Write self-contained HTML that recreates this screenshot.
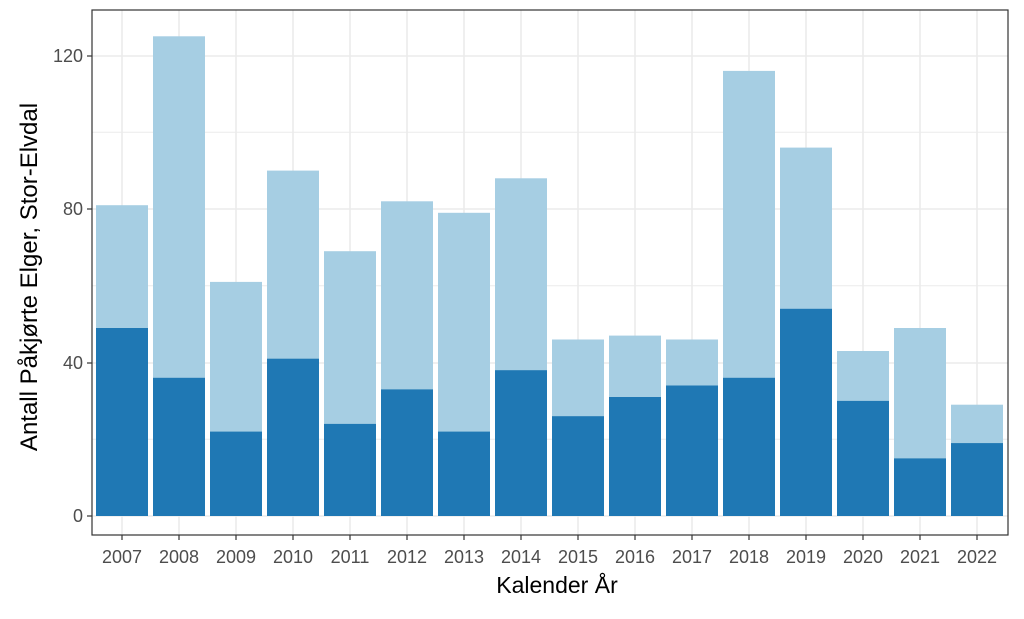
<!DOCTYPE html>
<html><head><meta charset="utf-8"><style>body{margin:0;background:#fff}</style></head><body>
<svg width="1024" height="614" xmlns="http://www.w3.org/2000/svg" font-family="Liberation Sans, sans-serif">
<rect x="92" y="10" width="916" height="525" fill="#fff"/>
<g stroke="#ebebeb" stroke-width="1">
<line x1="92" x2="1008" y1="439.25" y2="439.25"/><line x1="92" x2="1008" y1="285.75" y2="285.75"/><line x1="92" x2="1008" y1="132.25" y2="132.25"/>
</g>
<g stroke="#ebebeb" stroke-width="1.6">
<line x1="92" x2="1008" y1="516" y2="516"/><line x1="92" x2="1008" y1="363" y2="363"/><line x1="92" x2="1008" y1="209" y2="209"/><line x1="92" x2="1008" y1="56" y2="56"/>
<line x1="122" x2="122" y1="10" y2="535"/><line x1="179" x2="179" y1="10" y2="535"/><line x1="236" x2="236" y1="10" y2="535"/><line x1="293" x2="293" y1="10" y2="535"/><line x1="350" x2="350" y1="10" y2="535"/><line x1="407" x2="407" y1="10" y2="535"/><line x1="464" x2="464" y1="10" y2="535"/><line x1="521" x2="521" y1="10" y2="535"/><line x1="578" x2="578" y1="10" y2="535"/><line x1="635" x2="635" y1="10" y2="535"/><line x1="692" x2="692" y1="10" y2="535"/><line x1="749" x2="749" y1="10" y2="535"/><line x1="806" x2="806" y1="10" y2="535"/><line x1="863" x2="863" y1="10" y2="535"/><line x1="920" x2="920" y1="10" y2="535"/><line x1="977" x2="977" y1="10" y2="535"/>
</g>
<g fill="#a6cee3">
<rect x="96" y="205.2" width="52" height="310.8"/><rect x="153" y="36.3" width="52" height="479.7"/><rect x="210" y="281.9" width="52" height="234.1"/><rect x="267" y="170.6" width="52" height="345.4"/><rect x="324" y="251.2" width="52" height="264.8"/><rect x="381" y="201.3" width="52" height="314.7"/><rect x="438" y="212.8" width="52" height="303.2"/><rect x="495" y="178.3" width="52" height="337.7"/><rect x="552" y="339.5" width="52" height="176.5"/><rect x="609" y="335.6" width="52" height="180.4"/><rect x="666" y="339.5" width="52" height="176.5"/><rect x="723" y="70.9" width="52" height="445.1"/><rect x="780" y="147.6" width="52" height="368.4"/><rect x="837" y="351" width="52" height="165"/><rect x="894" y="328" width="52" height="188"/><rect x="951" y="404.7" width="52" height="111.3"/>
</g>
<g fill="#1f78b4">
<rect x="96" y="328" width="52" height="188"/><rect x="153" y="377.8" width="52" height="138.2"/><rect x="210" y="431.6" width="52" height="84.4"/><rect x="267" y="358.7" width="52" height="157.3"/><rect x="324" y="423.9" width="52" height="92.1"/><rect x="381" y="389.4" width="52" height="126.6"/><rect x="438" y="431.6" width="52" height="84.4"/><rect x="495" y="370.2" width="52" height="145.8"/><rect x="552" y="416.2" width="52" height="99.8"/><rect x="609" y="397" width="52" height="119"/><rect x="666" y="385.5" width="52" height="130.5"/><rect x="723" y="377.8" width="52" height="138.2"/><rect x="780" y="308.8" width="52" height="207.2"/><rect x="837" y="400.9" width="52" height="115.1"/><rect x="894" y="458.4" width="52" height="57.6"/><rect x="951" y="443.1" width="52" height="72.9"/>
</g>
<rect x="92" y="10" width="916" height="525" fill="none" stroke="#333" stroke-width="1.2"/>
<g stroke="#333" stroke-width="1.2">
<line x1="87" x2="92" y1="516" y2="516"/><line x1="87" x2="92" y1="363" y2="363"/><line x1="87" x2="92" y1="209" y2="209"/><line x1="87" x2="92" y1="56" y2="56"/>
</g>
<g font-size="18" fill="#4d4d4d" text-anchor="end">
<text x="83" y="522">0</text><text x="83" y="369">40</text><text x="83" y="215">80</text><text x="83" y="62">120</text>
</g>
<g stroke="#333" stroke-width="1.2">
<line x1="122" x2="122" y1="535" y2="540"/><line x1="179" x2="179" y1="535" y2="540"/><line x1="236" x2="236" y1="535" y2="540"/><line x1="293" x2="293" y1="535" y2="540"/><line x1="350" x2="350" y1="535" y2="540"/><line x1="407" x2="407" y1="535" y2="540"/><line x1="464" x2="464" y1="535" y2="540"/><line x1="521" x2="521" y1="535" y2="540"/><line x1="578" x2="578" y1="535" y2="540"/><line x1="635" x2="635" y1="535" y2="540"/><line x1="692" x2="692" y1="535" y2="540"/><line x1="749" x2="749" y1="535" y2="540"/><line x1="806" x2="806" y1="535" y2="540"/><line x1="863" x2="863" y1="535" y2="540"/><line x1="920" x2="920" y1="535" y2="540"/><line x1="977" x2="977" y1="535" y2="540"/>
</g>
<g font-size="18" fill="#4d4d4d" text-anchor="middle">
<text x="122" y="563">2007</text><text x="179" y="563">2008</text><text x="236" y="563">2009</text><text x="293" y="563">2010</text><text x="350" y="563">2011</text><text x="407" y="563">2012</text><text x="464" y="563">2013</text><text x="521" y="563">2014</text><text x="578" y="563">2015</text><text x="635" y="563">2016</text><text x="692" y="563">2017</text><text x="749" y="563">2018</text><text x="806" y="563">2019</text><text x="863" y="563">2020</text><text x="920" y="563">2021</text><text x="977" y="563">2022</text>
</g>
<text x="557" y="593" font-size="23" text-anchor="middle" fill="#000">Kalender År</text>
<text transform="translate(37,277) rotate(-90)" font-size="24" text-anchor="middle" fill="#000">Antall Påkjørte Elger, Stor-Elvdal</text>
</svg>
</body></html>
